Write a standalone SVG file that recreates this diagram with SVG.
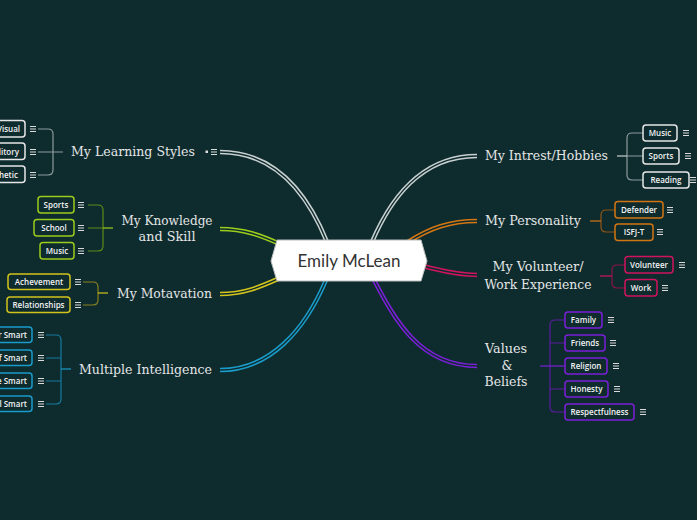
<svg xmlns="http://www.w3.org/2000/svg" xmlns:xlink="http://www.w3.org/1999/xlink" width="697" height="520" viewBox="0 0 697 520">
<style>
.topic{font-family:"DejaVu Serif","Liberation Serif",serif;font-size:12.5px;fill:#e4e6e6}
.sub{font-family:"Open Sans","Liberation Sans",sans-serif;font-size:8px;fill:#f2f2f2;font-weight:600}
.box{fill:#0e2b2e;stroke-width:1.5}
.br{fill:none;stroke-width:1.2}
.outer{fill:none;stroke-width:4.5;stroke-linecap:butt}
.inner{fill:none;stroke:#0e2b2e;stroke-width:1.4}
.m line{stroke:#dcdcdc;stroke-width:1}
</style>
<defs>
<g id="menu" class="m"><line x1="-3" y1="-2.5" x2="3" y2="-2.5"/><line x1="-3" y1="0" x2="3" y2="0"/><line x1="-3" y1="2.5" x2="3" y2="2.5"/></g>
</defs>
<rect width="697" height="520" fill="#0e2b2e"/>

<g id="connectors">
<g id="branches">
<path class="outer" stroke="#c9d0d0" d="M220,152 C280,152 310,200 327,242"/>
<path class="inner" d="M220,152 C280,152 310,200 327,242"/>
<path class="outer" stroke="#9ccc1c" d="M220,229 C245,229 262,236 280,244"/>
<path class="inner" d="M220,229 C245,229 262,236 280,244"/>
<path class="outer" stroke="#d2c41c" d="M220,294 C245,294 262,286 280,278"/>
<path class="inner" d="M220,294 C245,294 262,286 280,278"/>
<path class="outer" stroke="#1a9bc9" d="M220,370 C270,370 305,330 326,280"/>
<path class="inner" d="M220,370 C270,370 305,330 326,280"/>
<path class="outer" stroke="#c9d0d0" d="M477,156 C420,156 390,200 372,242"/>
<path class="inner" d="M477,156 C420,156 390,200 372,242"/>
<path class="outer" stroke="#d27614" d="M477,221 C450,221 430,228 408,242"/>
<path class="inner" d="M477,221 C450,221 430,228 408,242"/>
<path class="outer" stroke="#d0145e" d="M477,275 C455,275 440,270 422,266"/>
<path class="inner" d="M477,275 C455,275 440,270 422,266"/>
<path class="outer" stroke="#7b1fd8" d="M477,366 C420,366 395,320 374,280"/>
<path class="inner" d="M477,366 C420,366 395,320 374,280"/>
</g>
<g id="brackets">
<path class="br" stroke="#8d9c9c" d="M38,129 H48 Q53,129 53,134 V170 Q53,175 48,175 H38 M38,152 H63"/>
<path class="br" stroke="#5f8a1a" d="M88,205 H98 Q103,205 103,210 V246 Q103,251 98,251 H88 M88,228 H103"/>
<path class="br" stroke="#9ccc1c" d="M103,228 H113"/>
<path class="br" stroke="#8a8220" d="M83,282 H93 Q98,282 98,287 V300 Q98,305 93,305 H83"/>
<path class="br" stroke="#d2c41c" d="M98,293 H108"/>
<path class="br" stroke="#167a9e" d="M46,335 H56 Q61,335 61,340 V399 Q61,404 56,404 H46 M46,358 H61 M46,381 H61"/>
<path class="br" stroke="#1a9bc9" stroke-width="2" d="M61,369 H71"/>
<path class="br" stroke="#8d9c9c" d="M643,133 H632 Q627,133 627,138 V175 Q627,180 632,180 H643 M627,156 H643"/>
<path class="br" stroke="#c9d0d0" d="M617,156 H627"/>
<path class="br" stroke="#8f5516" d="M615,210 H606 Q601,210 601,215 V227 Q601,232 606,232 H615"/>
<path class="br" stroke="#d27614" d="M590,221 H601"/>
<path class="br" stroke="#8c1547" d="M625,265 H617 Q612,265 612,270 V283 Q612,288 617,288 H625"/>
<path class="br" stroke="#d0145e" d="M600,276 H612"/>
<path class="br" stroke="#5a1d9e" d="M565,320 H555 Q550,320 550,325 V407 Q550,412 555,412 H565 M550,343 H565 M550,389 H565"/>
<path class="br" stroke="#7b1fd8" stroke-width="2" d="M540,366 H565"/>
</g>
</g>

<g id="center">
<path d="M277,240 L421,240 L427,261 L421,281 L277,281 L271,261 Z" fill="#ffffff" stroke="#b8bcbc" stroke-width="1"/>
<text x="349" y="267" text-anchor="middle" font-family="Lato,'Open Sans',sans-serif" font-size="17" fill="#333333">Emily McLean</text>
</g>

<g id="learning-styles">
<text class="topic" x="71" y="156" textLength="124" lengthAdjust="spacingAndGlyphs">My Learning Styles</text>
<rect x="205.5" y="150.5" width="2.5" height="2.5" fill="#dcdcdc"/>
<use xlink:href="#menu" href="#menu" x="214" y="152"/>
</g>
<g id="visual"><rect class="box" stroke="#e6e6e6" x="-30" y="120.5" width="55" height="16.5" rx="3"/><text class="sub" x="20" y="132" text-anchor="end">Visual</text><use href="#menu" x="33" y="129"/></g>
<g id="auditory"><rect class="box" stroke="#e6e6e6" x="-30" y="143" width="55" height="16.5" rx="3"/><text class="sub" x="19" y="155" text-anchor="end">Auditory</text><use href="#menu" x="33" y="152"/></g>
<g id="kinesthetic"><rect class="box" stroke="#e6e6e6" x="-30" y="166" width="55" height="16.5" rx="3"/><text class="sub" x="18" y="178" text-anchor="end">Kinesthetic</text><use href="#menu" x="33" y="175"/></g>

<g id="knowledge">
<text class="topic" x="167" y="225" text-anchor="middle" textLength="91" lengthAdjust="spacingAndGlyphs">My Knowledge</text>
<text class="topic" x="167" y="241" text-anchor="middle" textLength="57" lengthAdjust="spacingAndGlyphs">and Skill</text>
</g>
<g id="k-sports"><rect class="box" stroke="#9ccc1c" x="38" y="196.5" width="36" height="16.5" rx="3"/><text class="sub" x="56" y="207.8" text-anchor="middle">Sports</text><use href="#menu" x="81" y="205"/></g>
<g id="k-school"><rect class="box" stroke="#9ccc1c" x="34" y="219.5" width="40" height="16.5" rx="3"/><text class="sub" x="54" y="230.8" text-anchor="middle">School</text><use href="#menu" x="81" y="228"/></g>
<g id="k-music"><rect class="box" stroke="#9ccc1c" x="40" y="242.5" width="34" height="16.5" rx="3"/><text class="sub" x="57" y="253.8" text-anchor="middle">Music</text><use href="#menu" x="81" y="251"/></g>

<g id="motivation">
<text class="topic" x="117" y="298" textLength="95" lengthAdjust="spacingAndGlyphs">My Motavation</text>
</g>
<g id="achievement"><rect class="box" stroke="#d2c41c" x="8" y="274" width="62" height="15.5" rx="3"/><text class="sub" x="39" y="284.8" text-anchor="middle">Achevement</text><use href="#menu" x="78" y="282"/></g>
<g id="relationships"><rect class="box" stroke="#d2c41c" x="7" y="297" width="63" height="15.5" rx="3"/><text class="sub" x="38.5" y="307.8" text-anchor="middle">Relationships</text><use href="#menu" x="78" y="305"/></g>

<g id="multiple">
<text class="topic" x="79" y="374" textLength="133" lengthAdjust="spacingAndGlyphs">Multiple Intelligence</text>
</g>
<g id="mi-1"><rect class="box" stroke="#1a9bc9" x="-40" y="327" width="72" height="15.5" rx="3"/><text class="sub" x="27" y="337.8" text-anchor="end">Number Smart</text><use href="#menu" x="41" y="335"/></g>
<g id="mi-2"><rect class="box" stroke="#1a9bc9" x="-40" y="350" width="72" height="15.5" rx="3"/><text class="sub" x="27" y="360.8" text-anchor="end">Self Smart</text><use href="#menu" x="41" y="358"/></g>
<g id="mi-3"><rect class="box" stroke="#1a9bc9" x="-40" y="373" width="72" height="15.5" rx="3"/><text class="sub" x="27" y="383.8" text-anchor="end">Picture Smart</text><use href="#menu" x="41" y="381"/></g>
<g id="mi-4"><rect class="box" stroke="#1a9bc9" x="-40" y="396" width="72" height="15.5" rx="3"/><text class="sub" x="27" y="406.8" text-anchor="end">Musical Smart</text><use href="#menu" x="41" y="404"/></g>

<g id="interests">
<text class="topic" x="485" y="160" textLength="123" lengthAdjust="spacingAndGlyphs">My Intrest/Hobbies</text>
</g>
<g id="i-music"><rect class="box" stroke="#e6e6e6" x="643" y="125" width="34" height="16" rx="3"/><text class="sub" x="660" y="136" text-anchor="middle">Music</text><use href="#menu" x="686" y="133"/></g>
<g id="i-sports"><rect class="box" stroke="#e6e6e6" x="643" y="148" width="36" height="16" rx="3"/><text class="sub" x="661" y="159" text-anchor="middle">Sports</text><use href="#menu" x="688" y="156"/></g>
<g id="i-reading"><rect class="box" stroke="#e6e6e6" x="643" y="172" width="46" height="16" rx="3"/><text class="sub" x="666" y="183" text-anchor="middle">Reading</text><use href="#menu" x="693" y="180"/></g>

<g id="personality">
<text class="topic" x="485" y="225" textLength="96" lengthAdjust="spacingAndGlyphs">My Personality</text>
</g>
<g id="defender"><rect class="box" stroke="#d27614" x="615" y="201.5" width="48" height="16.5" rx="3"/><text class="sub" x="639" y="212.8" text-anchor="middle">Defender</text><use href="#menu" x="670" y="210"/></g>
<g id="isfj"><rect class="box" stroke="#d27614" x="615" y="224" width="38" height="16.5" rx="3"/><text class="sub" x="634" y="235.3" text-anchor="middle">ISFJ-T</text><use href="#menu" x="660" y="232"/></g>

<g id="volunteer">
<text class="topic" x="538" y="271" text-anchor="middle" textLength="91" lengthAdjust="spacingAndGlyphs">My Volunteer/</text>
<text class="topic" x="538" y="289" text-anchor="middle" textLength="107" lengthAdjust="spacingAndGlyphs">Work Experience</text>
</g>
<g id="v-volunteer"><rect class="box" stroke="#d0145e" x="625" y="256.5" width="48" height="16.5" rx="3"/><text class="sub" x="649" y="267.8" text-anchor="middle">Volunteer</text><use href="#menu" x="682" y="265"/></g>
<g id="v-work"><rect class="box" stroke="#d0145e" x="625" y="279.5" width="32" height="16.5" rx="3"/><text class="sub" x="641" y="290.8" text-anchor="middle">Work</text><use href="#menu" x="665" y="288"/></g>

<g id="values">
<text class="topic" x="506" y="353" text-anchor="middle" textLength="42" lengthAdjust="spacingAndGlyphs">Values</text>
<text class="topic" x="507" y="370" text-anchor="middle">&amp;</text>
<text class="topic" x="506" y="386" text-anchor="middle" textLength="43" lengthAdjust="spacingAndGlyphs">Beliefs</text>
</g>
<g id="family"><rect class="box" stroke="#7b1fd8" x="565" y="312" width="37" height="16" rx="3"/><text class="sub" x="583.5" y="323" text-anchor="middle">Family</text><use href="#menu" x="611" y="320"/></g>
<g id="friends"><rect class="box" stroke="#7b1fd8" x="565" y="335" width="40" height="16" rx="3"/><text class="sub" x="585" y="346" text-anchor="middle">Friends</text><use href="#menu" x="613" y="343"/></g>
<g id="religion"><rect class="box" stroke="#7b1fd8" x="565" y="358" width="42" height="16" rx="3"/><text class="sub" x="586" y="369" text-anchor="middle">Religion</text><use href="#menu" x="616" y="366"/></g>
<g id="honesty"><rect class="box" stroke="#7b1fd8" x="565" y="381" width="43" height="16" rx="3"/><text class="sub" x="586.5" y="392" text-anchor="middle">Honesty</text><use href="#menu" x="617" y="389"/></g>
<g id="respectfulness"><rect class="box" stroke="#7b1fd8" x="565" y="404" width="69" height="16" rx="3"/><text class="sub" x="599.5" y="415" text-anchor="middle">Respectfulness</text><use href="#menu" x="643" y="412"/></g>
</svg>
